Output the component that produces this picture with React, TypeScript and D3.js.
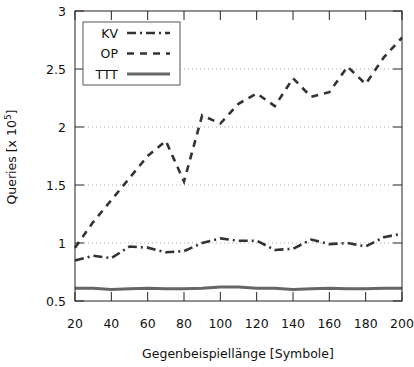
import * as d3 from "d3"

const lengths = [20, 30, 40, 50, 60, 70, 80, 90, 100, 110, 120, 130, 140, 150, 160, 170, 180, 190, 200]
const kv = [0.85, 0.89, 0.87, 0.97, 0.96, 0.92, 0.93, 1.0, 1.04, 1.02, 1.02, 0.94, 0.95, 1.03, 0.99, 1.0, 0.97, 1.05, 1.08]
const op = [0.96, 1.18, 1.37, 1.56, 1.75, 1.88, 1.53, 2.1, 2.03, 2.2, 2.29, 2.18, 2.42, 2.26, 2.3, 2.52, 2.37, 2.6, 2.77]
const ttt = [0.61, 0.61, 0.6, 0.605, 0.61, 0.605, 0.605, 0.61, 0.62, 0.62, 0.61, 0.61, 0.6, 0.605, 0.61, 0.605, 0.605, 0.61, 0.61]
const xTicks = [20, 40, 60, 80, 100, 120, 140, 160, 180, 200]
const yTicks = [0.5, 1, 1.5, 2, 2.5, 3]

const series = [
  { name: "KV", values: kv, color: "#333", width: 2.6, dash: "9,4,2,4" },
  { name: "OP", values: op, color: "#333", width: 2.6, dash: "7,6" },
  { name: "TTT", values: ttt, color: "#666", width: 3, dash: "" },
]

const W = 414, H = 367
const L = 75, R = 402, T = 11, B = 301
const font = "'DejaVu Sans', Verdana, sans-serif"

export default function App() {
  const x = d3.scaleLinear().domain([20, 200]).range([L, R])
  const y = d3.scaleLinear().domain([0.5, 3]).range([B, T])
  const line = (vals: number[]) =>
    d3.line<number>().x((_, i) => x(lengths[i])).y(d => y(d))(vals) || ""
  const tk = 9

  return (
    <svg width={W} height={H} style={{ position: "absolute", left: 0, top: 0, background: "#fff" }}
      fontFamily={font} fontSize={12.5}>
      {yTicks.filter(v => v > 0.5 && v < 3).map(v => (
        <line key={"g" + v} x1={L + tk} x2={R - tk} y1={y(v)} y2={y(v)}
          stroke="#aaa" strokeWidth={1} strokeDasharray="1,3" />
      ))}
      {series.map(s => (
        <path key={s.name} d={line(s.values)} fill="none" stroke={s.color}
          strokeWidth={s.width} strokeDasharray={s.dash || undefined} />
      ))}
      <rect x={L} y={T} width={R - L} height={B - T} fill="none" stroke="#222" strokeWidth={1} />
      {xTicks.map(v => (
        <g key={"x" + v}>
          <line x1={x(v)} x2={x(v)} y1={B} y2={B - tk} stroke="#222" />
          <line x1={x(v)} x2={x(v)} y1={T} y2={T + tk} stroke="#222" />
          <text x={x(v)} y={B + 27} textAnchor="middle" fill="#111">{v}</text>
        </g>
      ))}
      {yTicks.map(v => (
        <g key={"y" + v}>
          <line x1={L} x2={L + tk} y1={y(v)} y2={y(v)} stroke="#222" />
          <line x1={R} x2={R - tk} y1={y(v)} y2={y(v)} stroke="#222" />
          <text x={L - 9} y={y(v) + 4.5} textAnchor="end" fill="#111">{v}</text>
        </g>
      ))}
      <text x={238} y={358} textAnchor="middle" fill="#111">Gegenbeispiellänge [Symbole]</text>
      <text transform={`translate(16,157) rotate(-90)`} textAnchor="middle" fill="#111">
        Queries [x 10<tspan dy={-5} fontSize={9}>5</tspan><tspan dy={5}>]</tspan>
      </text>
      <rect x={83} y={22} width={97} height={63} fill="#fff" stroke="#555" strokeWidth={1} />
      {series.map((s, i) => (
        <g key={"l" + s.name}>
          <text x={118} y={33 + i * 20.5 + 4.5} textAnchor="end" fill="#111">{s.name}</text>
          <line x1={127} x2={170} y1={33 + i * 20.5} y2={33 + i * 20.5} stroke={s.color}
            strokeWidth={s.width} strokeDasharray={s.dash || undefined} />
        </g>
      ))}
    </svg>
  )
}
